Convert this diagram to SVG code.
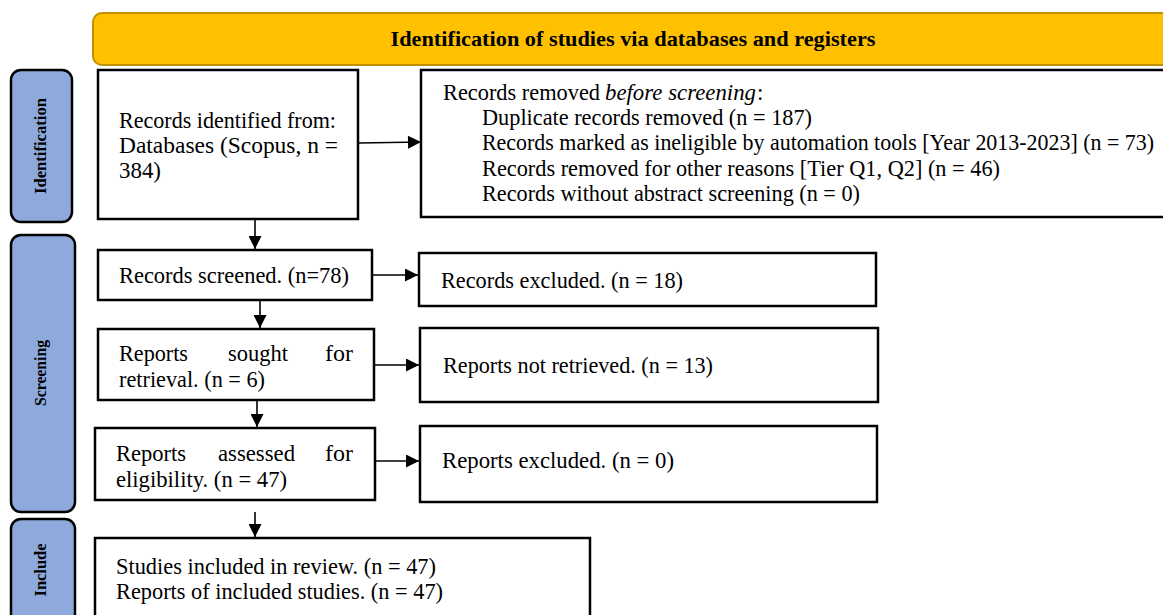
<svg xmlns="http://www.w3.org/2000/svg" width="1163" height="615" viewBox="0 0 1163 615">
<style>
.box{fill:#fff;stroke:#000;stroke-width:2.5}
.side{fill:#8EA9DB;stroke:#000;stroke-width:2.5}
.t{font-family:"Liberation Serif","Times New Roman",serif;font-size:23px;fill:#000}
.sl{font-family:"Liberation Serif","Times New Roman",serif;font-size:16px;font-weight:bold;fill:#000;text-anchor:middle}
.hd{font-family:"Liberation Serif","Times New Roman",serif;font-size:21px;font-weight:bold;fill:#000;text-anchor:middle}
.c{stroke:#000;stroke-width:1.6;fill:none;marker-end:url(#ah)}
</style>
<defs>
<marker id="ah" viewBox="0 0 10 10" refX="10" refY="5" markerWidth="14" markerHeight="13" markerUnits="userSpaceOnUse" orient="auto"><path d="M0,0 L10,5 L0,10 z" fill="#000"/></marker>
</defs>
<rect width="1163" height="615" fill="#fff"/>
<g id="header">
<rect x="93" y="13" width="1090" height="52" rx="9" fill="#FFC000" stroke="#BF9000" stroke-width="2"/>
<text class="hd" x="633" y="46" textLength="485" lengthAdjust="spacingAndGlyphs">Identification of studies via databases and registers</text>
</g>
<g id="side-identification">
<rect class="side" x="11" y="70" width="61" height="152" rx="10"/>
<text class="sl" transform="translate(46,146) rotate(-90)" textLength="96" lengthAdjust="spacingAndGlyphs">Identification</text>
</g>
<g id="side-screening">
<rect class="side" x="11" y="235" width="64" height="277" rx="10"/>
<text class="sl" transform="translate(46,373) rotate(-90)" textLength="66" lengthAdjust="spacingAndGlyphs">Screening</text>
</g>
<g id="side-include">
<rect class="side" x="11" y="519" width="64" height="110" rx="10"/>
<text class="sl" transform="translate(46,570) rotate(-90)" textLength="53" lengthAdjust="spacingAndGlyphs">Include</text>
</g>
<g id="records-identified">
<rect class="box" x="98" y="70" width="260" height="149"/>
<text class="t" x="119" y="128" textLength="217" lengthAdjust="spacingAndGlyphs">Records identified from:</text>
<text class="t" x="119" y="153" textLength="219" lengthAdjust="spacingAndGlyphs">Databases (Scopus, n =</text>
<text class="t" x="119" y="178" textLength="42" lengthAdjust="spacingAndGlyphs">384)</text>
</g>
<g id="records-removed">
<rect class="box" x="421" y="70" width="760" height="147"/>
<text class="t" x="443" y="100" textLength="157" lengthAdjust="spacingAndGlyphs">Records removed</text>
<text class="t" x="605" y="100" font-style="italic" textLength="151" lengthAdjust="spacingAndGlyphs">before screening</text>
<text class="t" x="757" y="100">:</text>
<text class="t" x="482" y="125" textLength="330" lengthAdjust="spacingAndGlyphs">Duplicate records removed (n = 187)</text>
<text class="t" x="482" y="150" font-size="20" textLength="672" lengthAdjust="spacingAndGlyphs">Records marked as ineligible by automation tools [Year 2013-2023] (n = 73)</text>
<text class="t" x="482" y="176" textLength="518" lengthAdjust="spacingAndGlyphs">Records removed for other reasons [Tier Q1, Q2] (n = 46)</text>
<text class="t" x="482" y="201" textLength="378" lengthAdjust="spacingAndGlyphs">Records without abstract screening (n = 0)</text>
</g>
<g id="records-screened">
<rect class="box" x="98" y="250" width="274" height="50"/>
<text class="t" x="119" y="283" textLength="230" lengthAdjust="spacingAndGlyphs">Records screened. (n=78)</text>
</g>
<g id="records-excluded">
<rect class="box" x="419" y="253" width="457" height="53"/>
<text class="t" x="441" y="288" textLength="242" lengthAdjust="spacingAndGlyphs">Records excluded. (n = 18)</text>
</g>
<g id="reports-sought">
<rect class="box" x="98" y="329" width="276" height="71"/>
<text class="t" x="119" y="361" textLength="69" lengthAdjust="spacingAndGlyphs">Reports</text>
<text class="t" x="228" y="361" textLength="60" lengthAdjust="spacingAndGlyphs">sought</text>
<text class="t" x="325" y="361" textLength="28" lengthAdjust="spacingAndGlyphs">for</text>
<text class="t" x="119" y="387" textLength="146" lengthAdjust="spacingAndGlyphs">retrieval. (n = 6)</text>
</g>
<g id="reports-not-retrieved">
<rect class="box" x="420" y="328" width="458" height="74"/>
<text class="t" x="443" y="373" textLength="270" lengthAdjust="spacingAndGlyphs">Reports not retrieved. (n = 13)</text>
</g>
<g id="reports-assessed">
<rect class="box" x="95" y="428" width="280" height="72"/>
<text class="t" x="116" y="461" textLength="70" lengthAdjust="spacingAndGlyphs">Reports</text>
<text class="t" x="218" y="461" textLength="77" lengthAdjust="spacingAndGlyphs">assessed</text>
<text class="t" x="325" y="461" textLength="28" lengthAdjust="spacingAndGlyphs">for</text>
<text class="t" x="116" y="487" textLength="171" lengthAdjust="spacingAndGlyphs">eligibility. (n = 47)</text>
</g>
<g id="reports-excluded">
<rect class="box" x="420" y="426" width="457" height="76"/>
<text class="t" x="442" y="468" textLength="232" lengthAdjust="spacingAndGlyphs">Reports excluded.  (n = 0)</text>
</g>
<g id="studies-included">
<rect class="box" x="95" y="538" width="495" height="90"/>
<text class="t" x="116" y="574" textLength="320" lengthAdjust="spacingAndGlyphs">Studies included in review. (n = 47)</text>
<text class="t" x="116" y="599" textLength="327" lengthAdjust="spacingAndGlyphs">Reports of included studies. (n = 47)</text>
</g>
<g id="connectors">
<line class="c" x1="359" y1="143" x2="421" y2="142"/>
<line class="c" x1="255" y1="219" x2="255" y2="249"/>
<line class="c" x1="373" y1="275" x2="418" y2="275"/>
<line class="c" x1="260" y1="300" x2="260" y2="328"/>
<line class="c" x1="375" y1="365" x2="419" y2="365"/>
<line class="c" x1="257" y1="400" x2="257" y2="427"/>
<line class="c" x1="376" y1="461" x2="419" y2="461"/>
<line class="c" x1="255" y1="512" x2="255" y2="537"/>
</g>
</svg>
